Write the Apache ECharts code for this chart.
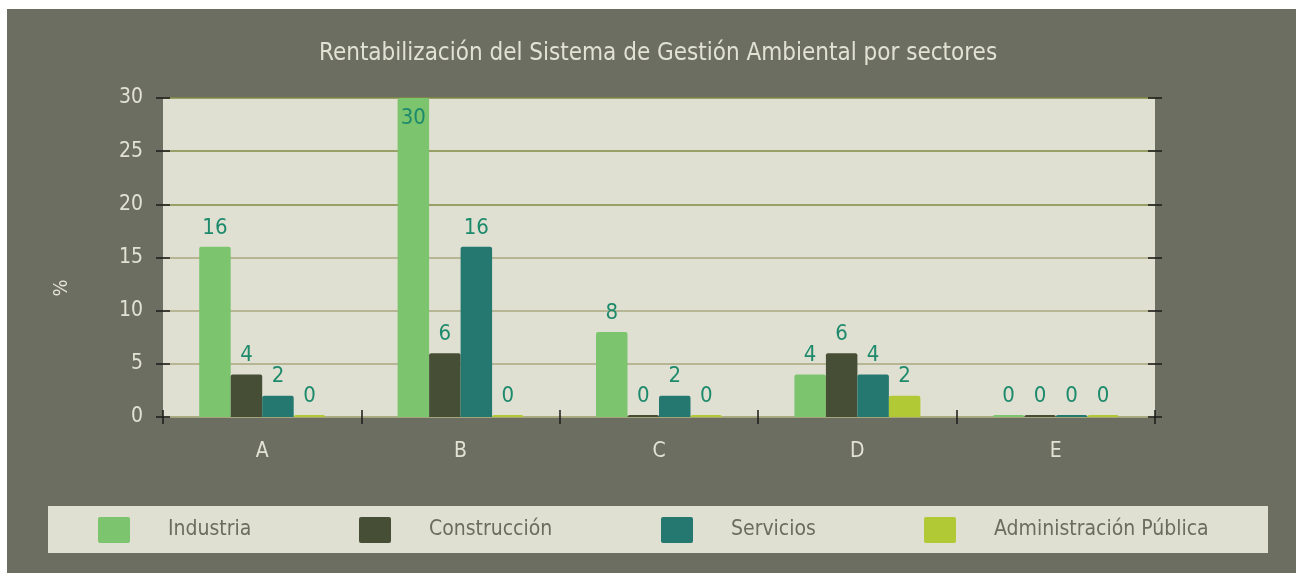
<!DOCTYPE html>
<html>
<head>
<meta charset="utf-8">
<script src="https://cdn.jsdelivr.net/npm/echarts@6/dist/echarts.min.js"></script>
<style>
  html, body { margin: 0; padding: 0; background: #ffffff; }
  #chart { width: 1296px; height: 573px; }
</style>
</head>
<body>
<div id="chart"></div>
<script>
// Sectors and percentage values per group
const categories = ['A', 'B', 'C', 'D', 'E'];
const seriesNames = ['Industria', 'Construcción', 'Servicios', 'Administración Pública'];
const industria = [16, 30, 8, 4, 0];
const construccion = [4, 6, 0, 6, 0];
const servicios = [2, 16, 2, 4, 0];
const administracion = [0, 0, 0, 2, 0];
const yTicks = [0, 5, 10, 15, 20, 25, 30];

const colors = ['#7cc46d', '#464f36', '#257870', '#b1c935'];
const values = [industria, construccion, servicios, administracion];
const yMax = yTicks[yTicks.length - 1];

const font = '"DejaVu Sans Condensed", "Liberation Sans Narrow", "Noto Sans", sans-serif';
const bgOuter = '#6d6e62';
const bgPlot = '#dfe0d2';
const labelColor = '#1d8a6c';

const chart = echarts.init(document.getElementById('chart'));

const series = values.map((vals, i) => ({
  name: seriesNames[i],
  type: 'bar',
  xAxisIndex: 0,
  yAxisIndex: 0,
  barGap: '0%',
  barCategoryGap: '36.5%',
  barMinHeight: 2,
  itemStyle: { color: colors[i], borderRadius: [2, 2, 0, 0] },
  label: {
    show: true,
    position: 'top',
    distance: 8,
    color: labelColor,
    fontFamily: font,
    fontSize: 22
  },
  data: vals.map(v => v >= yMax
    ? { value: v, label: { position: 'insideTop', distance: 9 } }
    : v)
}));

// legend: one component per entry so each sits at its own spot in the box
const legendLefts = [98, 359, 661, 924];
const legends = seriesNames.map((n, i) => ({
  data: [n],
  left: legendLefts[i],
  top: 517,
  padding: 0,
  orient: 'horizontal',
  itemWidth: 32,
  itemHeight: 26,
  icon: 'path://M2,0 L30,0 Q32,0 32,2 L32,24 Q32,26 30,26 L2,26 Q0,26 0,24 L0,2 Q0,0 2,0 Z',
  selectedMode: false,
  textStyle: {
    color: '#6b6c5f',
    fontFamily: font,
    fontSize: 21,
    padding: [2, 0, 0, 33]
  }
}));

const gridLineColors = ['#a8a97f', '#a8a97f', '#a8a97f', '#a8a97f', '#808b45', '#808b45', '#808b45'];

function yAxisDef(position, inside, main) {
  return {
    type: 'value',
    min: 0,
    max: yMax,
    interval: 5,
    position: position,
    offset: 0,
    axisLine: { show: false },
    axisTick: { show: true, inside: inside, length: 7, lineStyle: { color: '#1a1a1a', width: 1.5 } },
    axisLabel: main ? { show: true, color: '#e2e2d4', fontFamily: font, fontSize: 21, margin: 20 } : { show: false },
    splitLine: main ? { show: true, lineStyle: { color: gridLineColors, width: 1.5 } } : { show: false }
  };
}

function xAxisDef(inside, main) {
  return {
    type: 'category',
    data: categories,
    position: 'bottom',
    offset: 0,
    axisLine: main ? { show: true, lineStyle: { color: '#a8a97f', width: 1.5 } } : { show: false },
    axisTick: { show: true, inside: inside, length: 7, lineStyle: { color: '#1a1a1a', width: 1.5 } },
    axisLabel: main ? { show: true, color: '#e2e2d4', fontFamily: font, fontSize: 21, margin: 24 } : { show: false },
    splitLine: { show: false }
  };
}

chart.setOption({
  backgroundColor: '#ffffff',
  animation: false,
  title: {
    text: 'Rentabilización del Sistema de Gestión Ambiental por sectores',
    left: 314,
    top: 37,
    textStyle: { color: '#e2e2d4', fontFamily: font, fontSize: 24, fontWeight: 'normal' }
  },
  graphic: [
    { type: 'rect', z: -10, shape: { x: 7, y: 9, width: 1289, height: 564 }, style: { fill: bgOuter } },
    { type: 'rect', z: -9, shape: { x: 48, y: 506, width: 1220, height: 47 }, style: { fill: bgPlot } },
    {
      type: 'text', x: 62, y: 288, rotation: Math.PI / 2,
      style: { text: '%', fill: '#e2e2d4', font: '20px ' + font, align: 'center', verticalAlign: 'middle' }
    }
  ],
  legend: legends,
  grid: {
    left: 163, top: 98, width: 992, height: 319,
    show: true, backgroundColor: bgPlot, borderWidth: 0
  },
  xAxis: [xAxisDef(false, true), xAxisDef(true, false)],
  yAxis: [
    yAxisDef('left', false, true),
    yAxisDef('left', true, false),
    yAxisDef('right', false, false),
    yAxisDef('right', true, false)
  ],
  series: series
});
</script>
</body>
</html>
